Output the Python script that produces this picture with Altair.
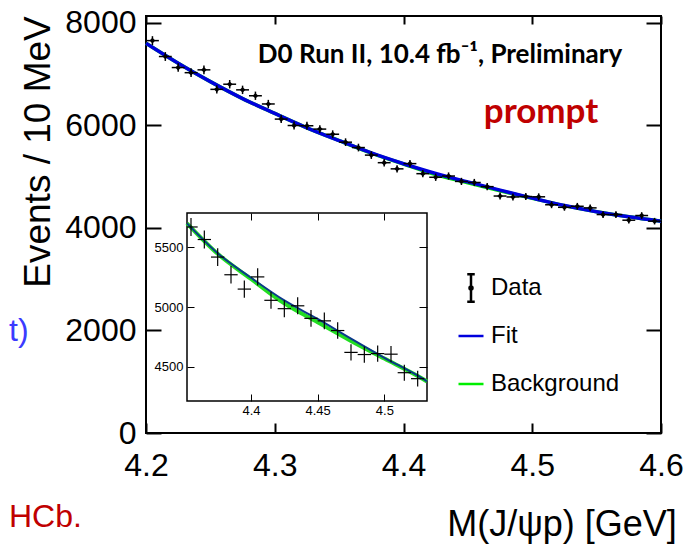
import altair as alt
import pandas as pd

# ---------------- data ----------------
bin_centers = [round(4.205 + 0.01 * i, 3) for i in range(40)]
counts = [7650, 7340, 7125, 7025, 7080, 6700, 6800, 6690, 6575, 6415,
          6120, 5995, 5990, 5925, 5825, 5670, 5565, 5418, 5270, 5150,
          5252, 5056, 4986, 5010, 4905, 4884, 4803, 4620, 4602, 4610,
          4605, 4450, 4400, 4420, 4389, 4259, 4259, 4149, 4240, 4130]
errors = [87, 86, 84, 84, 84, 82, 82, 82, 81, 80,
          78, 77, 77, 77, 76, 75, 75, 74, 73, 72,
          72, 71, 71, 71, 70, 70, 69, 68, 68, 68,
          68, 67, 66, 66, 66, 65, 65, 64, 65, 64]
fit_x = [4.200, 4.225, 4.250, 4.275, 4.300, 4.325, 4.350, 4.375, 4.400,
         4.425, 4.450, 4.475, 4.500, 4.525, 4.550, 4.575, 4.600]
fit_main = [7600, 7210, 6850, 6520, 6230, 5950, 5700, 5460, 5250,
            5060, 4895, 4735, 4580, 4435, 4315, 4215, 4130]
bkg_main = [7600, 7210, 6850, 6520, 6230, 5950, 5700, 5458, 5245,
            5040, 4878, 4722, 4575, 4433, 4315, 4215, 4130]
inset_fit_x = [4.352, 4.375, 4.400, 4.425, 4.450, 4.475, 4.500, 4.525, 4.532]
inset_fit = [5700, 5450, 5245, 5055, 4900, 4735, 4575, 4425, 4378]
inset_bkg = [5700, 5445, 5235, 5030, 4872, 4715, 4568, 4422, 4376]

x_ticks = [4.2, 4.3, 4.4, 4.5, 4.6]
y_ticks = [0, 2000, 4000, 6000, 8000]
inset_x_ticks = [4.4, 4.45, 4.5]
inset_y_ticks = [4500, 5000, 5500]
x_domain = [4.2, 4.6]
y_domain = [0, 8130]
inset_x_domain = [4.352, 4.532]
inset_y_domain = [4213, 5787]

legend_items = ["Data", "Fit", "Background"]
legend_colors = ["black", "#0000dd", "#00ee00"]
data_symbol = ("M0,-1.1V1.1M-0.3,-1.1H0.3M-0.3,1.1H0.3"
               "M-0.12,0A0.12,0.12 0 1 1 0.12,0A0.12,0.12 0 1 1 -0.12,0")
line_symbol = "M0,-1.1M0,1.1M-1,0H1"
legend_shapes = [data_symbol, line_symbol, line_symbol]

y_title = "Events / 10 MeV"
x_title = "M(J/\u03c8p) [GeV]"
header = "D0 Run II, 10.4 fb\u207b\u00b9, Preliminary"
tag = "prompt"
cut_left = "t)"
cut_bottom = "HCb."

# ---------------- layout ----------------
W, H = 515, 417
INSET_X_RANGE = [41, 281]
INSET_Y_RANGE = [385, 197]
FONT = "Liberation Sans"

pts = pd.DataFrame({"m": bin_centers, "n": counts, "e": errors})
pts["lo"] = pts["n"] - pts["e"]
pts["hi"] = pts["n"] + pts["e"]
pts["xl"] = pts["m"] - 0.005
pts["xr"] = pts["m"] + 0.005
ins_pts = pts[(pts["m"] > inset_x_domain[0]) & (pts["m"] < inset_x_domain[1])]

fit_df = pd.DataFrame({"m": fit_x, "fit": fit_main, "bkg": bkg_main})
ifit_df = pd.DataFrame({"m": inset_fit_x, "fit": inset_fit, "bkg": inset_bkg})
frame_df = pd.DataFrame({"x0": [x_domain[0]], "x1": [x_domain[1]],
                         "y0": [y_domain[0]], "y1": [y_domain[1]]})
iframe_df = pd.DataFrame({"x0": [inset_x_domain[0]], "x1": [inset_x_domain[1]],
                          "y0": [inset_y_domain[0]], "y1": [inset_y_domain[1]]})


def axis(orient, values, offset, tick, labels=True, fmt=".1f", size=32, pad=10,
         z=0, tw=2):
    kw = dict(orient=orient, values=values, offset=offset, tickSize=tick,
              domain=False, grid=False, labels=labels, title=None,
              tickColor="black", tickWidth=tw, zindex=z)
    if labels:
        kw.update(labelFont=FONT, labelFontSize=size, labelColor="black",
                  labelPadding=pad, labelFlush=False, labelOverlap=False,
                  format=fmt)
    return alt.Axis(**kw)


xs = alt.Scale(domain=x_domain, nice=False, zero=False)
ys = alt.Scale(domain=y_domain, nice=False, zero=False)

main_frame = alt.Chart(frame_df).mark_rect(
    filled=False, stroke="black", strokeWidth=2).encode(
    x=alt.X("x0:Q", scale=xs, axis=axis("bottom", x_ticks, -10, 10, fmt=".1f", pad=17)),
    x2="x1:Q",
    y=alt.Y("y0:Q", scale=ys, axis=axis("left", y_ticks, -15, 15, fmt="d", pad=10)),
    y2="y1:Q")
main_frame2 = alt.Chart(frame_df).mark_rect(opacity=0).encode(
    x=alt.X("x0:Q", scale=xs, axis=axis("top", x_ticks, -8, 8, labels=False)),
    x2="x1:Q",
    y=alt.Y("y0:Q", scale=ys, axis=axis("right", y_ticks, -15, 15, labels=False)),
    y2="y1:Q")

bkg_line = alt.Chart(fit_df).mark_line(
    color="#00e000", strokeWidth=3.5, interpolate="monotone").encode(
    x=alt.X("m:Q", scale=xs, axis=None), y=alt.Y("bkg:Q", scale=ys, axis=None))
fit_line = alt.Chart(fit_df).mark_line(
    color="#0000dd", strokeWidth=3.5, interpolate="monotone").encode(
    x=alt.X("m:Q", scale=xs, axis=None), y=alt.Y("fit:Q", scale=ys, axis=None))

vbar = alt.Chart(pts).mark_rule(color="black", strokeWidth=1.5).encode(
    x=alt.X("m:Q", scale=xs, axis=None), y=alt.Y("lo:Q", scale=ys, axis=None), y2="hi:Q")
hbar = alt.Chart(pts).mark_rule(color="black", strokeWidth=1.5).encode(
    x=alt.X("xl:Q", scale=xs, axis=None), x2="xr:Q", y=alt.Y("n:Q", scale=ys, axis=None))
dots = alt.Chart(pts).mark_point(
    shape="diamond", filled=True, size=32, color="black", opacity=1).encode(
    x=alt.X("m:Q", scale=xs, axis=None), y=alt.Y("n:Q", scale=ys, axis=None))

legend_kw = dict(orient="none", legendX=311, legendY=258, title=None,
                 labelFont=FONT, labelFontSize=24, labelColor="black",
                 symbolSize=625, symbolStrokeWidth=2.5, rowPadding=10,
                 labelOffset=6, padding=0)
leg = alt.Chart(pd.DataFrame({"series": legend_items})).mark_point(filled=False).encode(
    color=alt.Color("series:N", scale=alt.Scale(domain=legend_items, range=legend_colors),
                    legend=alt.Legend(**legend_kw)),
    shape=alt.Shape("series:N", scale=alt.Scale(domain=legend_items, range=legend_shapes),
                    legend=alt.Legend(**legend_kw)),
    opacity=alt.value(0))


def label(text, x, y, size, color="black", font=FONT, weight="normal",
          align="center", angle=0):
    return alt.Chart(pd.DataFrame({"t": [text]})).mark_text(
        font=font, fontSize=size, fontWeight=weight, color=color, align=align,
        baseline="alphabetic", angle=angle).encode(
        text="t:N", x=alt.value(x), y=alt.value(y))


texts = [
    label(header, 294, 47, 26, font="Lato", weight="bold"),
    label(tag, 395, 107, 35, color="#c00000", font="Lato", weight="bold"),
    label(y_title, -96, 136, 37, angle=270),
    label(x_title, 416, 520, 36),
    label(cut_left, -137, 325, 32, color="#3b3bff", align="left"),
    label(cut_bottom, -137, 511, 32, color="#c00000", align="left"),
]

MAIN = alt.layer(main_frame, main_frame2, bkg_line, fit_line, vbar, hbar, dots,
                 leg, *texts).resolve_axis(x="independent", y="independent")

# ---------------- inset ----------------
ixs = alt.Scale(domain=inset_x_domain, range=INSET_X_RANGE, nice=False, zero=False, clamp=True)
iys = alt.Scale(domain=inset_y_domain, range=INSET_Y_RANGE, nice=False, zero=False)

inset_bg = alt.Chart(iframe_df).mark_rect(
    fill="white", stroke="black", strokeWidth=1.5).encode(
    x=alt.X("x0:Q", scale=ixs,
            axis=axis("bottom", inset_x_ticks, -(H - 378), 7, fmt="~g", size=13, pad=3, z=1, tw=1)),
    x2="x1:Q",
    y=alt.Y("y0:Q", scale=iys,
            axis=axis("left", inset_y_ticks, -48, 7, fmt="d", size=13, pad=4, z=1, tw=1)),
    y2="y1:Q")
inset_ax2 = alt.Chart(iframe_df).mark_rect(opacity=0).encode(
    x=alt.X("x0:Q", scale=ixs, axis=axis("top", inset_x_ticks, -204, 7, labels=False, z=1, tw=1)),
    x2="x1:Q",
    y=alt.Y("y0:Q", scale=iys, axis=axis("right", inset_y_ticks, -(W - 273), 8, labels=False, z=1, tw=1)),
    y2="y1:Q")
i_bkg = alt.Chart(ifit_df).mark_line(
    color="#22dd22", strokeWidth=4, interpolate="monotone").encode(
    x=alt.X("m:Q", scale=ixs, axis=None), y=alt.Y("bkg:Q", scale=iys, axis=None))
i_fit = alt.Chart(ifit_df).mark_line(
    color="#0b3a8a", strokeWidth=2, interpolate="monotone").encode(
    x=alt.X("m:Q", scale=ixs, axis=None), y=alt.Y("fit:Q", scale=iys, axis=None))
i_v = alt.Chart(ins_pts).mark_rule(color="black", strokeWidth=1.2).encode(
    x=alt.X("m:Q", scale=ixs, axis=None), y=alt.Y("lo:Q", scale=iys, axis=None), y2="hi:Q")
i_h = alt.Chart(ins_pts).mark_rule(color="black", strokeWidth=1.2).encode(
    x=alt.X("xl:Q", scale=ixs, axis=None), x2="xr:Q", y=alt.Y("n:Q", scale=iys, axis=None))

INSET = alt.layer(inset_bg, inset_ax2, i_bkg, i_fit, i_v, i_h).resolve_axis(
    x="independent", y="independent")

chart = alt.layer(MAIN, INSET).resolve_scale(
    x="independent", y="independent").properties(
    width=W, height=H,
    autosize=alt.AutoSizeParams(type="none"),
    padding={"left": 138, "top": 8, "right": 30, "bottom": 111},
).configure_view(strokeWidth=0)

chart.save("out.html", embed_options={"renderer": "svg", "actions": False})
